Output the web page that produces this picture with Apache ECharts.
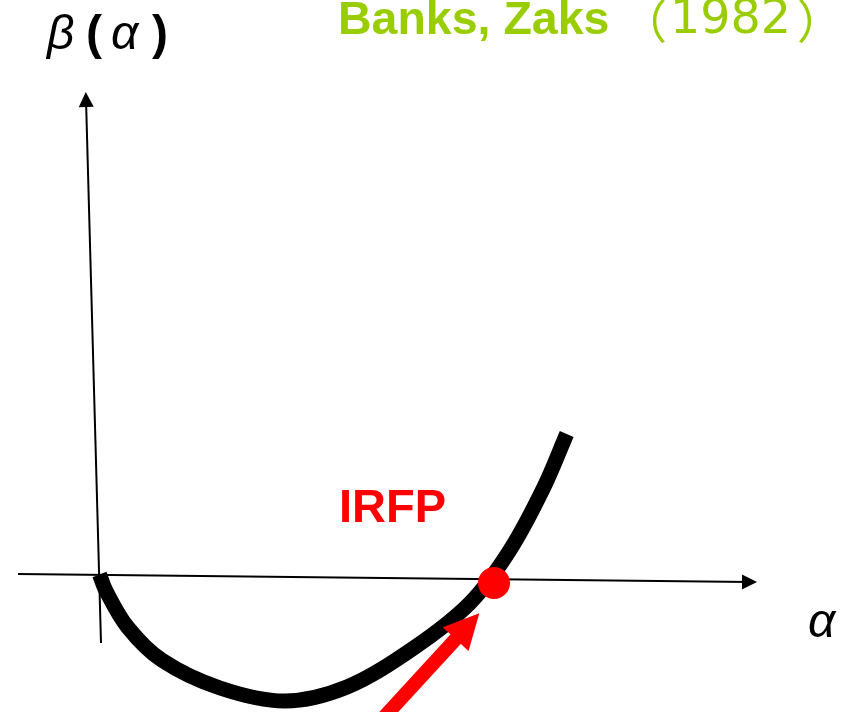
<!DOCTYPE html>
<html>
<head>
<meta charset="utf-8">
<script src="https://cdn.jsdelivr.net/npm/echarts@6/dist/echarts.min.js"></script>
<style>
  html, body { margin: 0; padding: 0; background: #ffffff; }
  #chart { width: 853px; height: 712px; }
</style>
</head>
<body>
<div id="chart"></div>
<script>
// Beta function sketch: beta(alpha) with an infrared fixed point (Banks-Zaks).
// Coordinates: alpha to the right, beta upward, origin where the curve starts.

// beta(alpha) curve
const curveAlpha = [0.005, 0.07, 0.283, 0.627, 1.21, 1.86, 2.48, 3.14, 3.71, 4.11, 4.45, 4.677];
const curveBeta  = [-0.005, -0.17, -0.527, -0.86, -1.14, -1.27, -1.13, -0.745, -0.29, 0.24, 0.87, 1.40];

// infrared fixed point
const irfp = [3.95, -0.09];

// flow arrow towards the fixed point: tail, head
const flowArrow = [[2.778, -1.51], [3.685, -0.522]];

// hand-drawn axes: start, arrow head
const alphaAxisLine = [[-0.81, 0.00], [6.505, -0.08]];
const betaAxisLine  = [[0.02, -0.69], [-0.13, 4.745]];

const xRange = [-0.99, 7.54];
const yRange = [-1.38, 5.74];

const curveData = curveAlpha.map((a, i) => [a, curveBeta[i]]);

const chart = echarts.init(document.getElementById('chart'), null, { renderer: 'canvas' });

const arrowLine = (coords, width, size, color, z) => ({
  type: 'lines',
  coordinateSystem: 'cartesian2d',
  polyline: false,
  silent: true,
  z: z,
  symbol: ['none', 'triangle'],
  symbolSize: size,
  lineStyle: { color: color, width: width, opacity: 1, curveness: 0 },
  data: [{ coords: coords }]
});

const dist = (a, b) => Math.hypot(b[0] - a[0], b[1] - a[1]);

// Smooth stroke through all curve points: cubic Beziers whose tangents
// are weighted by neighbouring chord lengths.
function renderCurve(params, api) {
  if (params.dataIndex !== 0) return null;
  const pts = curveData.map(p => api.coord(p));
  const n = pts.length;
  let d = 'M' + pts[0][0] + ' ' + pts[0][1];
  for (let i = 0; i < n - 1; i++) {
    const p0 = pts[Math.max(i - 1, 0)];
    const p1 = pts[i];
    const p2 = pts[i + 1];
    const p3 = pts[Math.min(i + 2, n - 1)];
    const d01 = dist(p0, p1), d12 = dist(p1, p2), d23 = dist(p2, p3);
    const k1 = d12 / ((d01 + d12) || 1) / 1.5;
    const k2 = d12 / ((d12 + d23) || 1) / 1.5;
    const c1x = p1[0] + (p2[0] - p0[0]) * k1 / 2;
    const c1y = p1[1] + (p2[1] - p0[1]) * k1 / 2;
    const c2x = p2[0] - (p3[0] - p1[0]) * k2 / 2;
    const c2y = p2[1] - (p3[1] - p1[1]) * k2 / 2;
    d += ' C' + c1x + ' ' + c1y + ' ' + c2x + ' ' + c2y + ' ' + p2[0] + ' ' + p2[1];
  }
  return {
    type: 'path',
    shape: { pathData: d },
    style: { fill: 'none', stroke: '#000000', lineWidth: 15, lineCap: 'butt', lineJoin: 'round' }
  };
}

chart.setOption({
  backgroundColor: '#ffffff',
  animation: false,
  grid: { left: 0, right: 0, top: 0, bottom: 0 },
  xAxis: { type: 'value', min: xRange[0], max: xRange[1], show: false },
  yAxis: { type: 'value', min: yRange[0], max: yRange[1], show: false },
  series: [
    arrowLine(alphaAxisLine, 2, 15, '#000000', 1),
    arrowLine(betaAxisLine, 2, 15, '#000000', 1),
    {
      type: 'custom',
      coordinateSystem: 'cartesian2d',
      z: 2,
      silent: true,
      data: curveData,
      renderItem: renderCurve
    },
    arrowLine(flowArrow, 14, 35, '#ff0000', 3),
    {
      type: 'scatter',
      z: 4,
      silent: true,
      data: [irfp],
      symbol: 'circle',
      symbolSize: 32,
      itemStyle: { color: '#ff0000', opacity: 1 }
    }
  ],
  graphic: [
    { type: 'text', style: { x: 47, y: 36, text: 'β', font: 'italic 48px "Liberation Sans"', fill: '#000', textVerticalAlign: 'middle' } },
    { type: 'text', style: { x: 86, y: 36, text: '(', font: 'bold 48px "Liberation Sans"', fill: '#000', textVerticalAlign: 'middle' } },
    { type: 'text', style: { x: 111, y: 36, text: 'α', font: 'italic 48px "Liberation Sans"', fill: '#000', textVerticalAlign: 'middle' } },
    { type: 'text', style: { x: 152, y: 36, text: ')', font: 'bold 48px "Liberation Sans"', fill: '#000', textVerticalAlign: 'middle' } },
    { type: 'text', style: { x: 338, y: 21, text: 'Banks, Zaks', font: 'bold 46.5px "Liberation Sans"', fill: '#9acd00', textVerticalAlign: 'middle' } },
    { type: 'text', style: { x: 621, y: 21, text: '（', font: '46px "Noto Sans CJK SC"', fill: '#9acd00', textVerticalAlign: 'middle' } },
    { type: 'text', style: { x: 670, y: 21, text: '1982', font: '47.5px "DejaVu Sans"', fill: '#9acd00', textVerticalAlign: 'middle' } },
    { type: 'text', style: { x: 797, y: 21, text: '）', font: '46px "Noto Sans CJK SC"', fill: '#9acd00', textVerticalAlign: 'middle' } },
    { type: 'text', style: { x: 339, y: 509, text: 'IRFP', font: 'bold 47px "Liberation Sans"', fill: '#ff0000', textVerticalAlign: 'middle' } },
    { type: 'text', style: { x: 808, y: 624, text: 'α', font: 'italic 48px "Liberation Sans"', fill: '#000', textVerticalAlign: 'middle' } }
  ]
});
</script>
</body>
</html>
